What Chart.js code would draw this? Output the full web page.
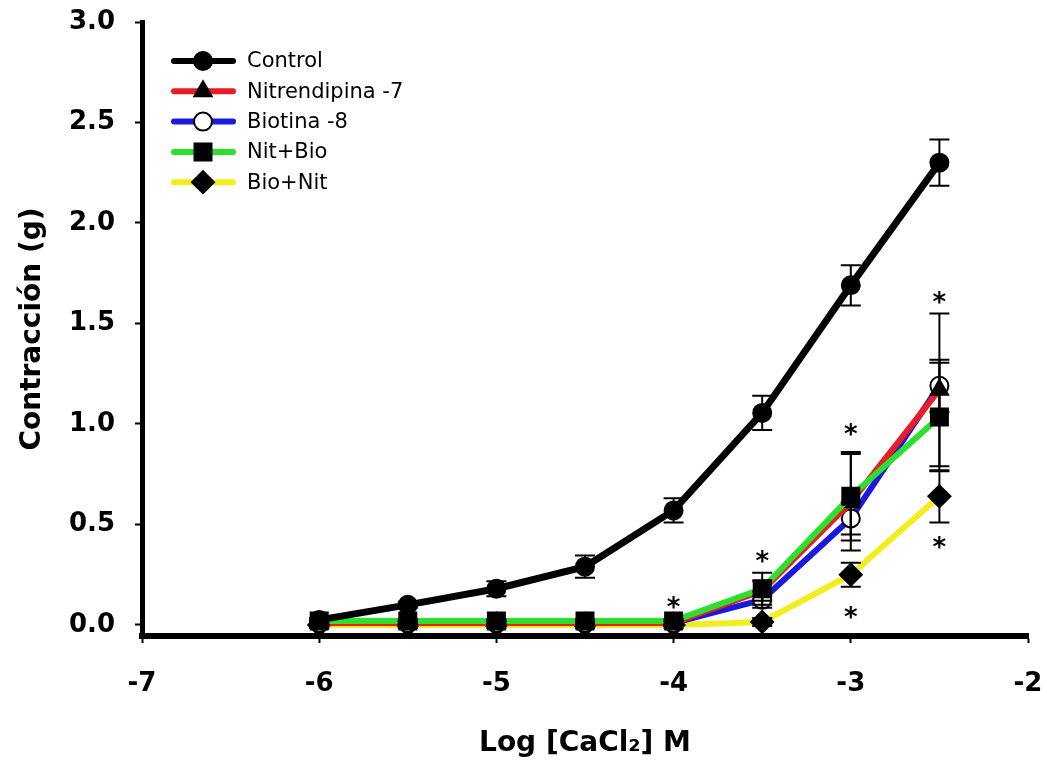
<!DOCTYPE html>
<html>
<head>
<meta charset="utf-8">
<script src="https://cdn.jsdelivr.net/npm/chart.js@4"></script>
<style>
  body { margin: 0; background: #fff; }
  canvas { display: block; }
</style>
</head>
<body>
<canvas id="chart" width="1047" height="761"></canvas>
<script>
// datos
const logCa = [-6, -5.5, -5, -4.5, -4, -3.5, -3, -2.5];

const control = [0.025, 0.10, 0.18, 0.29, 0.57, 1.055, 1.69, 2.30];
const controlErr = [0.01, 0.015, 0.037, 0.055, 0.06, 0.085, 0.10, 0.115];

const nitrendipina = [0.01, 0.01, 0.01, 0.01, 0.01, 0.17, 0.61, 1.17];
const nitrendipinaErr = [0.01, 0.01, 0.01, 0.01, 0.01, 0.05, 0.24, 0.38];

const biotina = [0.01, 0.01, 0.01, 0.01, 0.01, 0.125, 0.53, 1.19];
const biotinaErr = [0.01, 0.01, 0.01, 0.01, 0.01, 0.04, 0.08, 0.13];

const nitBio = [0.02, 0.02, 0.02, 0.02, 0.02, 0.18, 0.64, 1.035];
const nitBioErr = [0.01, 0.01, 0.01, 0.01, 0.01, 0.08, 0.22, 0.27];

const bioNit = [0.0, 0.0, 0.0, 0.0, 0.0, 0.015, 0.25, 0.64];
const bioNitErr = [0.005, 0.005, 0.005, 0.005, 0.005, 0.02, 0.06, 0.13];

// asteriscos de significancia (x, y)
const sigX = [-4, -3.5, -3, -3, -2.5, -2.5];
const sigY = [0.11, 0.34, 0.97, 0.06, 1.63, 0.41];

const xTicks = [-7, -6, -5, -4, -3, -2];
const yTicks = [0, 0.5, 1.0, 1.5, 2.0, 2.5, 3.0];

const series = [
    { label: "Control", data: control, err: controlErr, color: "#000000", style: "circle", radius: 9, fill: "#000", order: 0, width: 7 },
    { label: "Nitrendipina -7", data: nitrendipina, err: nitrendipinaErr, color: "#ec1c24", style: "triangle", radius: 10, fill: "#000", order: 2, width: 6 },
    { label: "Biotina -8", data: biotina, err: biotinaErr, color: "#1a1adc", style: "circle", radius: 9, fill: "#fff", order: 3, width: 6 },
    { label: "Nit+Bio", data: nitBio, err: nitBioErr, color: "#2ee02e", style: "rect", radius: 12, fill: "#000", order: 1, width: 6 },
    { label: "Bio+Nit", data: bioNit, err: bioNitErr, color: "#f2ee1e", style: "rectRot", radius: 11, fill: "#000", order: 4, width: 6 }
];

const tickFont = { family: "'DejaVu Sans'", size: 26, weight: "bold" };
const titleFont = { family: "'DejaVu Sans'", size: 28, weight: "bold" };

// Barras de error + asteriscos
const errorBars = {
    id: "errorBars",
    afterDatasetsDraw(chart) {
        const ctx = chart.ctx;
        const xs = chart.scales.x, ys = chart.scales.y;
        ctx.save();
        ctx.strokeStyle = "#000";
        ctx.lineWidth = 2;
        series.forEach(s => {
            s.data.forEach((v, i) => {
                const px = xs.getPixelForValue(logCa[i]);
                const top = ys.getPixelForValue(v + s.err[i]);
                const bot = ys.getPixelForValue(v - s.err[i]);
                ctx.beginPath();
                ctx.moveTo(px, top); ctx.lineTo(px, bot);
                ctx.moveTo(px - 10, top); ctx.lineTo(px + 10, top);
                ctx.moveTo(px - 10, bot); ctx.lineTo(px + 10, bot);
                ctx.stroke();
            });
        });
        ctx.fillStyle = "#000";
        ctx.font = "bold 26px 'DejaVu Sans'";
        ctx.textAlign = "center";
        ctx.textBaseline = "alphabetic";
        const m = ctx.measureText("*");
        const off = (m.actualBoundingBoxAscent - m.actualBoundingBoxDescent) / 2;
        sigX.forEach((x, i) => {
            ctx.fillText("*", xs.getPixelForValue(x), ys.getPixelForValue(sigY[i]) + off);
        });
        ctx.restore();
    }
};

// Leyenda dibujada a mano
const legendBox = {
    id: "legendBox",
    afterDraw(chart) {
        const ctx = chart.ctx;
        ctx.save();
        series.forEach((s, i) => {
            const y = 61 + i * 30.3;
            ctx.strokeStyle = s.color;
            ctx.lineWidth = 6;
            ctx.lineCap = "round";
            ctx.beginPath();
            ctx.moveTo(174, y); ctx.lineTo(233, y);
            ctx.stroke();
            ctx.fillStyle = s.fill;
            ctx.strokeStyle = "#000";
            ctx.lineWidth = 2;
            Chart.helpers.drawPoint(ctx, { pointStyle: s.style, radius: s.radius, rotation: 0, borderWidth: 2 }, 203, y);
            ctx.fillStyle = "#000";
            ctx.font = "21px 'DejaVu Sans'";
            ctx.textAlign = "left";
            ctx.textBaseline = "middle";
            ctx.fillText(s.label, 247, y + 1);
        });
        ctx.restore();
    }
};

const datasets = series.map(s => ({
    label: s.label,
    data: logCa.map((x, i) => ({ x: x, y: s.data[i] })),
    borderColor: s.color,
    borderWidth: s.width,
    backgroundColor: s.fill,
    pointStyle: s.style,
    pointRadius: s.radius,
    pointBackgroundColor: s.fill,
    pointBorderColor: "#000",
    pointBorderWidth: 2,
    tension: 0,
    order: s.order
}));

new Chart(document.getElementById("chart"), {
    type: "line",
    data: { datasets },
    options: {
        responsive: false,
        animation: false,
        layout: { padding: { top: 22, right: 19, left: 0, bottom: 0 } },
        plugins: { legend: { display: false }, tooltip: { enabled: false } },
        scales: {
            x: {
                type: "linear",
                min: -7, max: -2,
                afterBuildTicks: sc => { sc.ticks = xTicks.map(v => ({ value: v })); },
                afterFit: sc => { sc.height = 125; sc.paddingLeft = 0; sc.paddingRight = 0; },
                ticks: { color: "#000", font: tickFont, padding: 26, maxRotation: 0 },
                grid: { drawOnChartArea: false, drawTicks: true, tickLength: 7, tickWidth: 2, tickColor: "#000" },
                border: { display: true, color: "#000", width: 6 },
                title: { display: true, text: "Log [CaCl₂] M", color: "#000", font: titleFont, padding: { top: 0, bottom: 0 } }
            },
            y: {
                type: "linear",
                min: -0.055, max: 3.0,
                afterBuildTicks: sc => { sc.ticks = yTicks.map(v => ({ value: v })); },
                afterFit: sc => { sc.width = 142; sc.paddingTop = 0; sc.paddingBottom = 0; },
                ticks: { color: "#000", font: tickFont, padding: 20, callback: v => v.toFixed(1) },
                grid: { drawOnChartArea: false, drawTicks: true, tickLength: 7, tickWidth: 2, tickColor: "#000" },
                border: { display: true, color: "#000", width: 5 },
                title: { display: true, text: "Contracción (g)", color: "#000", font: titleFont, padding: { top: 16, bottom: 0 } }
            }
        }
    },
    plugins: [errorBars, legendBox]
});
</script>
</body>
</html>
